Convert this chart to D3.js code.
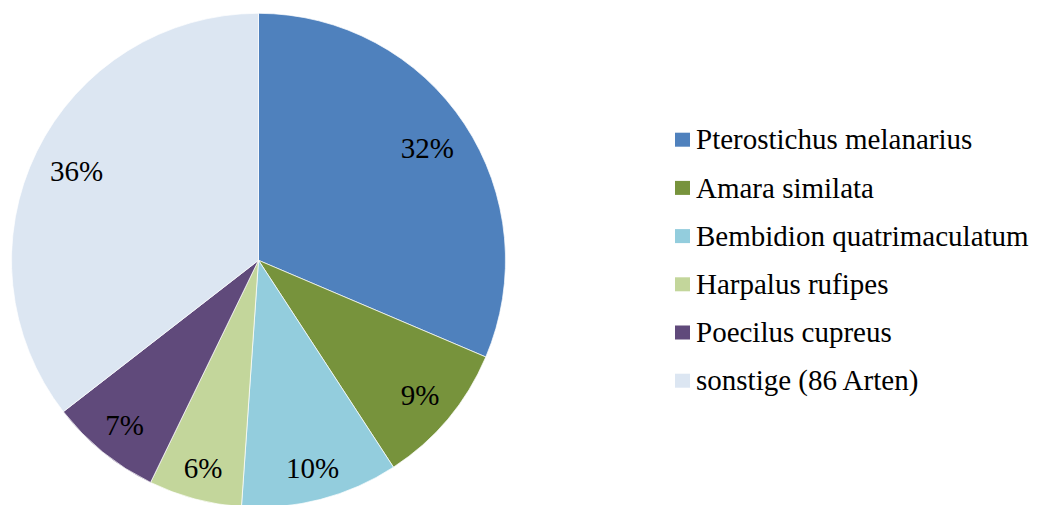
<!DOCTYPE html>
<html>
<head>
<meta charset="utf-8">
<script src="https://cdn.jsdelivr.net/npm/d3@7"></script>
<style>
  body { margin: 0; background: white; }
  svg { display: block; }
</style>
</head>
<body>
<script>
// data
var species = ["Pterostichus melanarius", "Amara similata", "Bembidion quatrimaculatum",
               "Harpalus rufipes", "Poecilus cupreus", "sonstige (86 Arten)"];
var shares = [31.4, 9.4, 10.3, 6.1, 7.3, 35.5];
var labels = ["32%", "9%", "10%", "6%", "7%", "36%"];
var colors = ["#4F81BD", "#77933C", "#93CDDD", "#C3D69B", "#604A7B", "#DCE6F2"];

var width = 1039, height = 505;
var cx = 258.5, cy = 260.3, r = 247;
var fontFam = "Liberation Serif";

var svg = d3.select("body").append("svg")
    .attr("width", width)
    .attr("height", height);

var pie = d3.pie().sort(null).value(d => d);
var arcs = pie(shares);

var arc = d3.arc().innerRadius(0).outerRadius(r);

// labels sit a bit further out on the lower half (like excel does it)
function labelPos(d) {
  var a = (d.startAngle + d.endAngle) / 2;
  var lr = r * 0.82 + 13 * Math.max(0, -Math.cos(a));
  return [lr * Math.sin(a), -lr * Math.cos(a)];
}

var g = svg.append("g").attr("transform", `translate(${cx},${cy})`);

g.selectAll("path")
    .data(arcs)
    .enter().append("path")
    .attr("d", arc)
    .attr("fill", (d, i) => colors[i])
    .attr("stroke", "white")
    .attr("stroke-width", 0.7);

g.selectAll("text")
    .data(arcs)
    .enter().append("text")
    .attr("transform", d => `translate(${labelPos(d)})`)
    .attr("text-anchor", "middle")
    .attr("dy", "0.33em")
    .attr("font-family", fontFam)
    .attr("font-size", 29)
    .attr("fill", "black")
    .text((d, i) => labels[i]);

// legend
var legend = svg.append("g").attr("transform", "translate(675,149.3)");
var row = legend.selectAll("g")
    .data(species)
    .enter().append("g")
    .attr("transform", (d, i) => `translate(0,${i * 48.2})`);

row.append("rect")
    .attr("x", 0)
    .attr("y", -16.6)
    .attr("width", 15)
    .attr("height", 14)
    .attr("fill", (d, i) => colors[i]);

row.append("text")
    .attr("x", 21)
    .attr("y", 0)
    .attr("font-family", fontFam)
    .attr("font-size", 29)
    .attr("fill", "black")
    .text(d => d);
</script>
</body>
</html>
